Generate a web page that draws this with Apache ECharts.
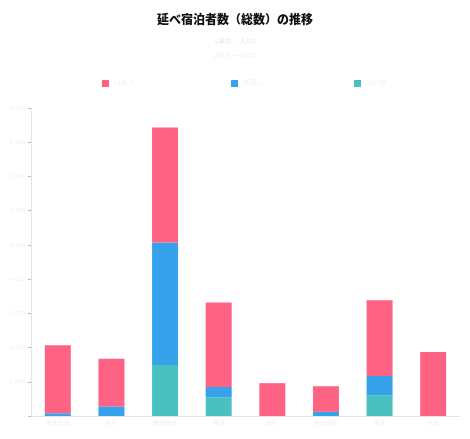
<!DOCTYPE html>
<html><head><meta charset="utf-8">
<script src="https://cdn.jsdelivr.net/npm/echarts@6/dist/echarts.min.js"></script>
<style>html,body{margin:0;padding:0;background:#fff}#c{width:470px;height:439px}</style>
</head><body><div id="c"></div>
<script>
const categories = ['県北地域', '県央', '県南地域', '県西', '鹿行', '県南西部', '県東', '県北'];
const seriesNames = ['日本人', '外国人', 'その他'];
const redValues = [1990, 1390, 3360, 2470, 960, 750, 2210, 1870];
const blueValues = [80, 280, 3580, 300, 0, 120, 560, 0];
const tealValues = [0, 0, 1490, 550, 0, 0, 610, 0];
const yMax = 9000, yInterval = 1000;

const colors = ['#ff6384', '#36a2eb', '#4bc0c0'];
const faint = '#f0f0f0';
const chart = echarts.init(document.getElementById('c'));
function leg(name, left) {
  return { data: [name], left: left, top: 75, itemWidth: 7, itemHeight: 7, icon: 'rect',
    textStyle: { color: faint, fontSize: 7 }, selectedMode: false };
}
chart.setOption({
  animation: false,
  title: [
    { text: '延べ宿泊者数（総数）の推移', left: 'center', top: 8,
      textStyle: { fontSize: 12, fontWeight: 900, color: '#111', fontFamily: 'Noto Sans CJK JP' } },
    { text: '（単位：人泊）', left: 'center', top: 33, textStyle: { fontSize: 7, color: '#e6e6e6', fontWeight: 'normal' } },
    { text: '2019 〜 2023', left: 'center', top: 48, textStyle: { fontSize: 7, color: '#eeeeee', fontWeight: 'normal' } }
  ],
  legend: [leg(seriesNames[0], 97), leg(seriesNames[1], 226), leg(seriesNames[2], 349)],
  grid: { left: 31, right: 10, top: 108, bottom: 23, containLabel: false },
  xAxis: {
    type: 'category', data: categories,
    axisLine: { lineStyle: { color: '#e4e4e4' } },
    axisTick: { show: false },
    axisLabel: { color: faint, fontSize: 6, margin: 4 }
  },
  yAxis: {
    type: 'value', min: 0, max: yMax, interval: yInterval,
    axisLine: { show: true, lineStyle: { color: '#e4e4e4' } },
    axisTick: { show: true, length: 3, lineStyle: { color: '#bbbbbb' } },
    splitLine: { show: false },
    axisLabel: { color: faint, fontSize: 6, margin: 6 }
  },
  series: [
    { name: seriesNames[2], type: 'bar', stack: 's', data: tealValues, barWidth: 26, itemStyle: { color: colors[2] } },
    { name: seriesNames[1], type: 'bar', stack: 's', data: blueValues, barWidth: 26, itemStyle: { color: colors[1] } },
    { name: seriesNames[0], type: 'bar', stack: 's', data: redValues, barWidth: 26, itemStyle: { color: colors[0] } }
  ]
});
</script></body></html>
